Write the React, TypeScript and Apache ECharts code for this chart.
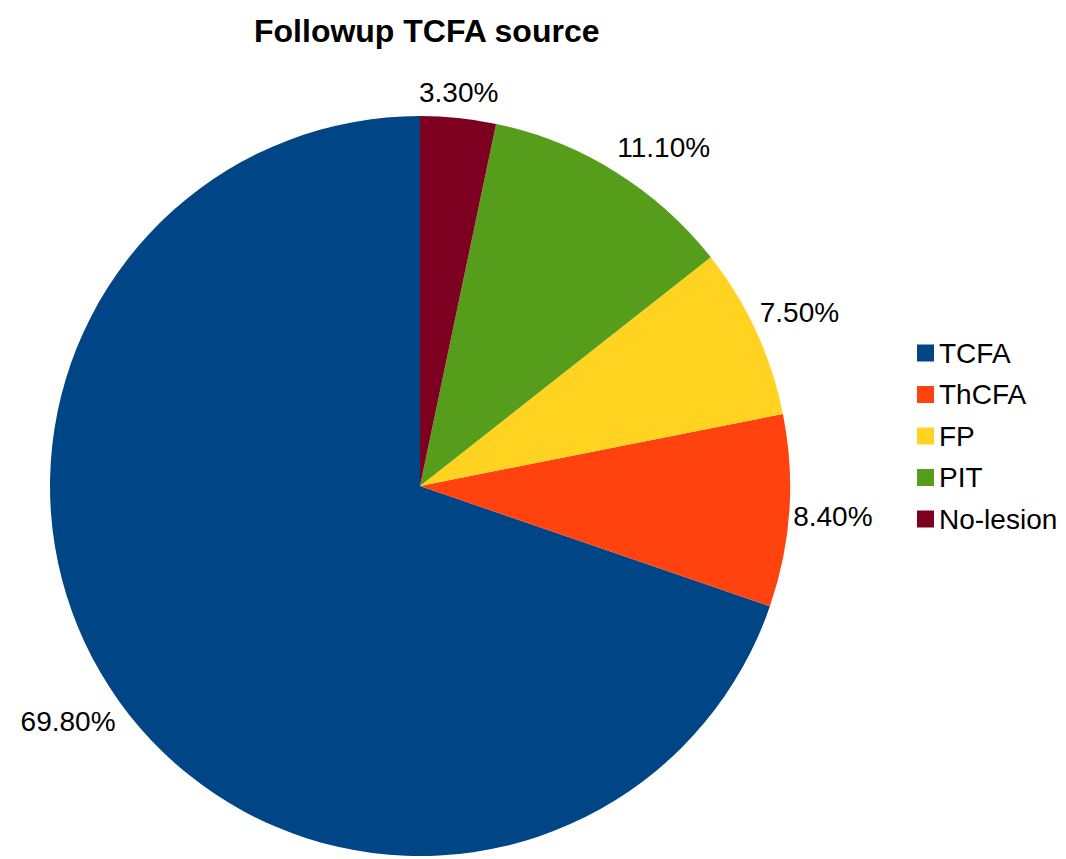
import React, { useEffect, useRef } from "react";
import * as echarts from "echarts";

const categories = ["TCFA", "ThCFA", "FP", "PIT", "No-lesion"];
const values = [69.8, 8.4, 7.5, 11.1, 3.3];
const colors = ["#004586", "#ff420e", "#ffd320", "#579d1c", "#7e0021"];
const titleText = "Followup TCFA source";

const CX = 420;
const CY = 486;
const R = 370;
const FONT = "'Liberation Sans', Arial, sans-serif";

export default function App() {
  const ref = useRef<HTMLDivElement>(null);
  useEffect(() => {
    if (!ref.current) return;
    const chart = echarts.init(ref.current, null, { renderer: "svg" });
    const total = values.reduce((a, b) => a + b, 0);
    chart.setOption({
      animation: false,
      backgroundColor: "#ffffff",
      title: {
        text: titleText,
        left: 249,
        top: 10,
        textStyle: { fontFamily: FONT, fontWeight: "bold", fontSize: 32, color: "#000" },
      },
      legend: {
        orient: "vertical",
        left: 912,
        top: 334,
        icon: "rect",
        itemWidth: 17,
        itemHeight: 17,
        itemGap: 13.5,
        data: categories,
        textStyle: { fontFamily: FONT, fontSize: 28, color: "#000" },
      },
      series: [
        {
          type: "pie",
          center: [CX, CY],
          radius: R,
          startAngle: 90,
          clockwise: false,
          data: categories.map((name, i) => ({
            name,
            value: values[i],
            itemStyle: { color: colors[i] },
          })),
          label: {
            show: true,
            position: "outside",
            fontFamily: FONT,
            fontSize: 28,
            color: "#000",
            overflow: "none",
            formatter: (p: any) => p.value.toFixed(2) + "%",
          },
          labelLine: { show: false },
          labelLayout: (p: any) => {
            const idx = p.dataIndex;
            let start = 90;
            for (let i = 0; i < idx; i++) start += (values[i] / total) * 360;
            const mid = start + ((values[idx] / total) * 360) / 2;
            const rad = (mid * Math.PI) / 180;
            const c = Math.cos(rad);
            const s = Math.sin(rad);
            const vAlign = s > 0.35 ? "bottom" : s < -0.35 ? "top" : "middle";
            return {
              x: CX + (R + 4) * c,
              y: CY - (R + 12) * s + (vAlign === "middle" ? 5 : 0),
              align: c > 0.35 ? "left" : c < -0.35 ? "right" : "center",
              verticalAlign: vAlign,
            };
          },
          emphasis: { disabled: true },
        },
      ],
    });
    return () => chart.dispose();
  }, []);
  return (
    <div
      ref={ref}
      style={{ position: "absolute", left: 0, top: 0, width: 1066, height: 859 }}
    />
  );
}
